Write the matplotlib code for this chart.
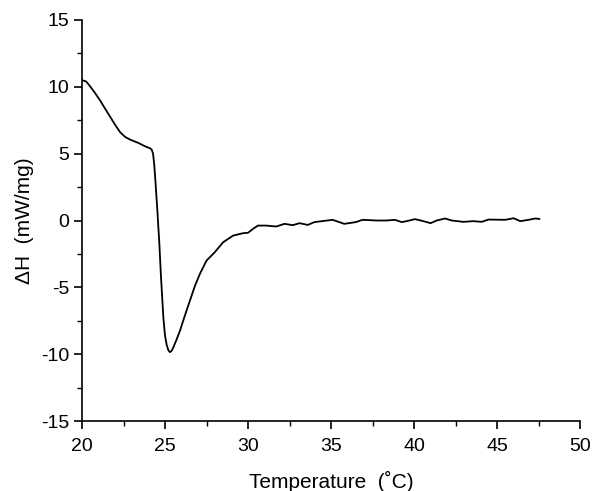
import matplotlib
matplotlib.use("Agg")
import matplotlib.pyplot as plt
from matplotlib.ticker import MultipleLocator

temperature = [20.0, 20.25, 20.48, 20.75, 21.08, 21.4, 21.7, 22.0, 22.3, 22.6, 22.9, 23.4, 23.8,
               24.1, 24.2, 24.28, 24.35, 24.42, 24.54,
               24.66, 24.76, 24.9, 25.0, 25.1, 25.2, 25.3, 25.4, 25.5, 25.7, 25.9, 26.2, 26.5,
               26.8, 27.1, 27.5, 28.0, 28.5,
               29.1, 29.7, 30.0, 30.3, 30.6, 31.1, 31.7, 32.2, 32.7, 33.1, 33.6, 34.0,
               35.1, 35.8, 36.5, 36.9, 37.75, 38.35, 38.85, 39.26, 39.55, 40.06, 40.57,
               41.0, 41.37, 41.87, 42.27, 42.97, 43.57, 44.08, 44.48, 45.5, 46.0, 46.4,
               46.9, 47.3, 47.55]
delta_h = [10.5, 10.4, 10.05, 9.6, 9.0, 8.35, 7.75, 7.15, 6.6, 6.25, 6.05, 5.8, 5.55,
           5.4, 5.3, 5.0, 4.2, 3.0, 0.75,
           -1.75, -4.25, -7.25, -8.6, -9.3, -9.7, -9.85, -9.75, -9.5, -8.9, -8.25, -7.1, -6.0,
           -4.9, -4.0, -3.0, -2.37, -1.63,
           -1.13, -0.95, -0.92, -0.63, -0.38, -0.38, -0.45, -0.25, -0.35, -0.2, -0.33, -0.12,
           0.05, -0.25, -0.12, 0.05, 0.0, 0.0, 0.05, -0.12, -0.05, 0.1, -0.05,
           -0.2, 0.0, 0.15, 0.0, -0.1, -0.05, -0.1, 0.07, 0.05, 0.17, -0.05,
           0.05, 0.15, 0.12]

x_ticks = [20, 25, 30, 35, 40, 45, 50]
y_ticks = [-15, -10, -5, 0, 5, 10, 15]

plt.rcParams['font.family'] = ['Liberation Sans', 'DejaVu Sans']
fig = plt.figure(figsize=(5.92, 4.91), dpi=100)
ax = fig.add_axes([82/592, 1-421/491, (580-82)/592, 401/491])
ax.plot(temperature, delta_h, color='black', lw=1.3)
ax.set_xlim(20, 50)
ax.set_ylim(-15, 15)
ax.set_xticks(x_ticks)
ax.set_yticks(y_ticks)
ax.set_xticklabels([str(t) for t in x_ticks])
ax.set_yticklabels([str(t) for t in y_ticks])
ax.xaxis.set_minor_locator(MultipleLocator(2.5))
ax.yaxis.set_minor_locator(MultipleLocator(2.5))
for s in ['top', 'right']:
    ax.spines[s].set_visible(False)
for s in ['left', 'bottom']:
    ax.spines[s].set_linewidth(1.2)
ax.tick_params(which='major', direction='out', length=6, width=1.2, labelsize=14)
ax.tick_params(which='minor', direction='out', length=3.5, width=1.0)
ax.tick_params(axis='x', which='major', pad=6)
ax.tick_params(axis='y', which='major', pad=3)
ax.set_xlabel('Temperature  (˚C)', fontsize=15, labelpad=12)
ax.set_ylabel('ΔH  (mW/mg)', fontsize=15, labelpad=5)
fig.savefig('out.png', dpi=100)
